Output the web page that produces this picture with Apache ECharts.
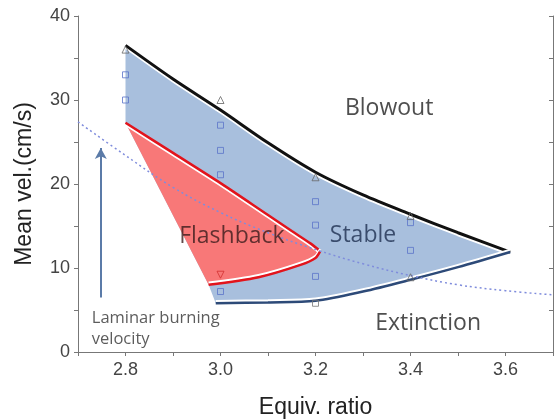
<!DOCTYPE html>
<html>
<head>
<meta charset="utf-8">
<script src="https://cdn.jsdelivr.net/npm/echarts@6/dist/echarts.min.js"></script>
<style>html,body{margin:0;padding:0;background:#fff;}#c{width:554px;height:420px;}</style>
</head>
<body>
<div id="c"></div>
<script>
// ---- data ----
var blowoutX = [2.8, 2.9, 3.0, 3.1, 3.2, 3.3, 3.4, 3.5, 3.61];
var blowoutY = [36.5, 32.5, 28.8, 24.9, 21.4, 18.7, 16.4, 14.2, 11.9];
var extinctionX = [2.99, 3.1, 3.2, 3.3, 3.4, 3.5, 3.61];
var extinctionY = [5.8, 5.9, 6.1, 7.2, 8.6, 10.1, 11.9];
var flashUpperX = [2.8, 2.9, 3.0, 3.1, 3.15, 3.19, 3.21];
var flashUpperY = [27.3, 23.7, 20.1, 16.3, 14.4, 12.9, 12.0];
var flashLowerX = [3.21, 3.2, 3.17, 3.08, 2.975];
var flashLowerY = [12.0, 11.2, 10.4, 8.9, 8.0];
var laminarX = [2.7, 2.8, 2.9, 3.0, 3.1, 3.2, 3.3, 3.4, 3.5, 3.6, 3.7];
var laminarY = [27.4, 23.4, 19.6, 16.6, 14.2, 12.2, 10.5, 9.1, 8.0, 7.3, 6.8];
var squareX = [2.8, 2.8, 3.0, 3.0, 3.0, 3.0, 3.2, 3.2, 3.2, 3.4, 3.4];
var squareY = [33.0, 30.0, 27.0, 24.0, 21.1, 7.2, 17.9, 15.1, 9.0, 15.4, 12.1];
var graySquareX = [3.2];
var graySquareY = [5.8];
var triangleX = [2.8, 3.0, 3.2, 3.4, 3.4];
var triangleY = [36.0, 30.0, 20.8, 16.2, 8.9];
var downTriX = [3.0];
var downTriY = [9.2];
var arrowX = [2.748, 2.748];
var arrowY = [6.5, 24.3];
var regionNames = ['Blowout', 'Flashback', 'Stable', 'Extinction'];
var regionX = [3.355, 3.024, 3.30, 3.437];
var regionY = [29.0, 13.7, 13.9, 3.45];
var noteLines = ['Laminar burning', 'velocity'];
var noteX = [2.729, 2.729];
var noteY = [4.0, 1.5];
var xTicks = ['2.8', '3.0', '3.2', '3.4', '3.6'];
var yTicks = ['0', '10', '20', '30', '40'];

function zip(xs, ys) { return xs.map(function (x, i) { return [x, ys[i]]; }); }

// polygons built from the boundary arrays
var stablePoly = zip(blowoutX, blowoutY)
  .concat(zip(extinctionX, extinctionY).reverse())
  .concat([[flashLowerX[flashLowerX.length - 1], flashLowerY[flashLowerY.length - 1]]])
  .concat([[flashUpperX[0], flashUpperY[0]]]);
var flashPoly = zip(flashUpperX, flashUpperY).concat(zip(flashLowerX, flashLowerY).slice(1));

function polySeries(poly, fill, z) {
  return {
    type: 'custom', z: z, silent: true, clip: true,
    data: [poly[0]],
    renderItem: function (params, api) {
      var pts = poly.map(function (p) { return api.coord(p); });
      return { type: 'polygon', shape: { points: pts }, style: { fill: fill, stroke: null } };
    }
  };
}

var tickFont = { fontFamily: 'Liberation Sans', fontSize: 18, color: '#444' };
var axisLine = { show: true, lineStyle: { color: '#777', width: 1 } };

var option = {
  animation: false,
  backgroundColor: '#fff',
  grid: { left: 78, right: 1, top: 16, bottom: 68, containLabel: false, outerBoundsMode: 'none' },
  xAxis: [{
    type: 'value', min: 2.7, max: 3.7, interval: 0.1, position: 'bottom',
    axisLine: axisLine, splitLine: { show: false },
    axisTick: { show: true, length: 4, lineStyle: { color: '#777' } },
    axisLabel: Object.assign({ margin: 9, showMinLabel: false, showMaxLabel: false,
      formatter: function (v) { var s = v.toFixed(1); return xTicks.indexOf(s) >= 0 ? s : ''; } }, tickFont),
    name: 'Equiv. ratio', nameLocation: 'middle', nameGap: 44,
    nameTextStyle: { fontFamily: 'Liberation Sans', fontSize: 23, color: '#222' }
  }, {
    type: 'value', min: 2.7, max: 3.7, interval: 0.1, position: 'top',
    axisLine: axisLine, splitLine: { show: false },
    axisTick: { show: true, inside: true, length: 4, lineStyle: { color: '#777' } },
    axisLabel: { show: false }
  }],
  yAxis: [{
    type: 'value', min: 0, max: 40, interval: 5, position: 'left',
    axisLine: axisLine, splitLine: { show: false },
    axisTick: { show: true, length: 4, lineStyle: { color: '#777' } },
    axisLabel: Object.assign({ margin: 8,
      formatter: function (v) { var s = String(v); return yTicks.indexOf(s) >= 0 ? s : ''; } }, tickFont),
    name: 'Mean vel.(cm/s)', nameLocation: 'middle', nameGap: 42,
    nameTextStyle: { fontFamily: 'Liberation Sans', fontSize: 23, color: '#222' }
  }, {
    type: 'value', min: 0, max: 40, interval: 5, position: 'right',
    axisLine: axisLine, splitLine: { show: false },
    axisTick: { show: true, inside: true, length: 4, lineStyle: { color: '#777' } },
    axisLabel: { show: false }
  }],
  series: [
    polySeries(stablePoly, '#a8bfdd', 1),
    polySeries(flashPoly, '#f87878', 2),
    { type: 'line', z: 5, data: zip(blowoutX, blowoutY), smooth: 0.3, symbol: 'none',
      lineStyle: { color: '#111', width: 3, shadowColor: '#ffffff', shadowOffsetY: 2, shadowBlur: 0 } },
    { type: 'line', z: 5, data: zip(extinctionX, extinctionY), smooth: 0.3, symbol: 'none',
      lineStyle: { color: '#2d4a78', width: 2.5, shadowColor: '#ffffff', shadowOffsetY: -2, shadowBlur: 0 } },
    { type: 'line', z: 5, data: zip(flashUpperX, flashUpperY), smooth: 0.3, symbol: 'none',
      lineStyle: { color: '#e2141c', width: 2.5, shadowColor: '#ffffff', shadowOffsetY: 2, shadowBlur: 0 } },
    { type: 'line', z: 5, data: zip(flashLowerX, flashLowerY), smooth: 0.3, symbol: 'none',
      lineStyle: { color: '#e2141c', width: 2.5, shadowColor: '#ffffff', shadowOffsetY: -2, shadowBlur: 0 } },
    { type: 'line', z: 6, data: zip(laminarX, laminarY), smooth: 0.4, symbol: 'none',
      lineStyle: { color: '#7f8cdc', width: 1.5, type: [2, 3] } },
    { type: 'scatter', z: 7, data: zip(squareX, squareY), symbol: 'rect', symbolSize: 6,
      itemStyle: { color: 'transparent', borderColor: '#5b74c9', borderWidth: 1 } },
    { type: 'scatter', z: 7, data: zip(graySquareX, graySquareY), symbol: 'rect', symbolSize: 6,
      itemStyle: { color: 'transparent', borderColor: '#777', borderWidth: 1 } },
    { type: 'scatter', z: 7, data: zip(triangleX, triangleY), symbol: 'triangle', symbolSize: 7,
      itemStyle: { color: 'transparent', borderColor: '#666', borderWidth: 1 } },
    { type: 'scatter', z: 7, data: zip(downTriX, downTriY), symbol: 'triangle', symbolRotate: 180, symbolSize: 7,
      itemStyle: { color: 'transparent', borderColor: '#d23030', borderWidth: 1 } },
    { type: 'line', z: 8, data: [], symbol: 'none',
      markLine: { silent: true, symbol: ['none', 'arrow'], symbolSize: [9, 11],
        lineStyle: { color: '#5b7ba8', width: 2, type: 'solid' }, label: { show: false },
        data: [[{ coord: [arrowX[0], arrowY[0]] }, { coord: [arrowX[1], arrowY[1]] }]] } },
    { type: 'scatter', z: 9, symbolSize: 1, itemStyle: { color: 'transparent' },
      data: regionNames.map(function (n, i) {
        var col = ['#222', '#3a1c1c', '#1e2f50', '#222'][i];
        return { name: n, value: [regionX[i], regionY[i]],
          label: { show: true, position: 'inside', formatter: '{b}', fontFamily: 'Open Sans',
            fontSize: 23, color: col } };
      }) },
    { type: 'scatter', z: 9, symbolSize: 1, itemStyle: { color: 'transparent' },
      data: noteLines.map(function (n, i) {
        return { name: n, value: [noteX[i], noteY[i]],
          label: { show: true, position: 'inside', align: 'left', formatter: '{b}', fontFamily: 'Open Sans',
            fontSize: 16.5, color: '#333' } };
      }) }
  ]
};
var chart = echarts.init(document.getElementById('c'), null, { renderer: 'canvas' });
chart.setOption(option);
</script>
</body>
</html>
